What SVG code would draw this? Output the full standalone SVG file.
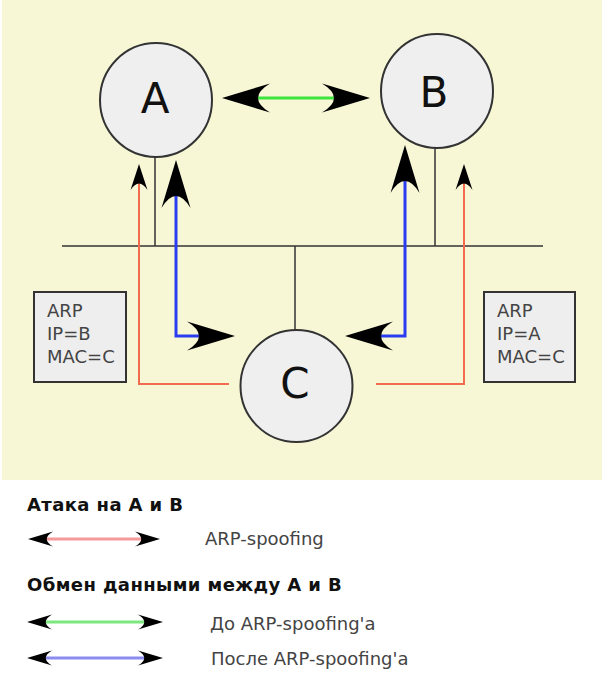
<svg xmlns="http://www.w3.org/2000/svg" width="604" height="679" viewBox="0 0 604 679">
  <style>
    .node { fill: #efefef; stroke: #333; stroke-width: 2; }
    .nlabel { font-family: "DejaVu Sans", sans-serif; font-size: 42px; fill: #111; text-anchor: middle; }
    .box { fill: #eeeeee; stroke: #333; stroke-width: 2; }
    .btext { font-family: "DejaVu Sans", sans-serif; font-size: 18px; fill: #444; }
    .wire { stroke: #333; stroke-width: 1.5; fill: none; }
    .red { stroke: #f26b4f; stroke-width: 2; fill: none; }
    .blue { stroke: #2b3cf0; stroke-width: 3; fill: none; }
    .green { stroke: #3de53d; stroke-width: 3; fill: none; }
    .lred { stroke: #f59a9a; stroke-width: 3; fill: none; }
    .lgreen { stroke: #7de87d; stroke-width: 3; fill: none; }
    .lblue { stroke: #8c8cf0; stroke-width: 3; fill: none; }
    .title { font-family: "DejaVu Sans", sans-serif; font-size: 18px; font-weight: bold; fill: #111; letter-spacing: 0.4px; }
    .ltext { font-family: "DejaVu Sans", sans-serif; font-size: 18px; fill: #444; }
  </style>
  <defs>
    <marker id="big" viewBox="-50 -16 52 32" markerWidth="52" markerHeight="32" refX="-32" refY="0" markerUnits="userSpaceOnUse" orient="auto-start-reverse" overflow="visible">
      <path d="M0,0 L-48,-14.5 Q-24,0 -48,14.5 Z" fill="#000"/>
    </marker>
    <marker id="small" viewBox="-28 -10 30 20" markerWidth="30" markerHeight="20" refX="-16" refY="0" markerUnits="userSpaceOnUse" orient="auto-start-reverse" overflow="visible">
      <path d="M0,0 L-26,-8.5 Q-13,0 -26,8.5 Z" fill="#000"/>
    </marker>
    <marker id="leg" viewBox="-27 -9 29 18" markerWidth="29" markerHeight="18" refX="-15" refY="0" markerUnits="userSpaceOnUse" orient="auto-start-reverse" overflow="visible">
      <path d="M0,0 L-25,-7.5 Q-12.5,0 -25,7.5 Z" fill="#000"/>
    </marker>
  </defs>

  <rect x="2" y="0" width="600" height="480" fill="#f7f7d6"/>

  <g id="connectors">
    <line class="wire" x1="62" y1="246" x2="543" y2="246"/>
    <line class="wire" x1="155" y1="157" x2="155" y2="246"/>
    <line class="wire" x1="435" y1="148" x2="435" y2="246"/>
    <line class="wire" x1="295" y1="246" x2="295" y2="330"/>
    <path class="green" d="M254,98 H338" marker-start="url(#big)" marker-end="url(#big)"/>
    <path class="red" d="M229,384 H139 V180" marker-end="url(#small)"/>
    <path class="red" d="M376,384 H464 V180" marker-end="url(#small)"/>
    <path class="blue" d="M176,192 V336 H203" marker-start="url(#big)" marker-end="url(#big)"/>
    <path class="blue" d="M405,177 V336 H377" marker-start="url(#big)" marker-end="url(#big)"/>
  </g>

  <g id="nodeA">
    <ellipse class="node" cx="156" cy="100" rx="56" ry="57"/>
    <text class="nlabel" x="155" y="113">A</text>
  </g>
  <g id="nodeB">
    <ellipse class="node" cx="437" cy="91" rx="56" ry="57"/>
    <text class="nlabel" x="434" y="107">B</text>
  </g>
  <g id="nodeC">
    <ellipse class="node" cx="296.5" cy="386" rx="56" ry="56"/>
    <text class="nlabel" x="295" y="398">C</text>
  </g>

  <g id="boxLeft">
    <rect class="box" x="34" y="292" width="92" height="90"/>
    <text class="btext" x="47" y="317">ARP</text>
    <text class="btext" x="47" y="340">IP=B</text>
    <text class="btext" x="47" y="363">MAC=C</text>
  </g>
  <g id="boxRight">
    <rect class="box" x="484" y="292" width="91" height="90"/>
    <text class="btext" x="497" y="317">ARP</text>
    <text class="btext" x="497" y="340">IP=A</text>
    <text class="btext" x="497" y="363">MAC=C</text>
  </g>

  <g id="legend">
    <text class="title" x="27" y="511">Атака на А и В</text>
    <path class="lred" d="M43,539 H145" marker-start="url(#leg)" marker-end="url(#leg)"/>
    <text class="ltext" x="205" y="545">ARP-spoofing</text>
    <text class="title" x="27" y="591">Обмен данными между А и В</text>
    <path class="lgreen" d="M42,622 H148" marker-start="url(#leg)" marker-end="url(#leg)"/>
    <text class="ltext" x="210" y="630">До ARP-spoofing'a</text>
    <path class="lblue" d="M42,658 H148" marker-start="url(#leg)" marker-end="url(#leg)"/>
    <text class="ltext" x="211" y="665">После ARP-spoofing'a</text>
  </g>
</svg>
